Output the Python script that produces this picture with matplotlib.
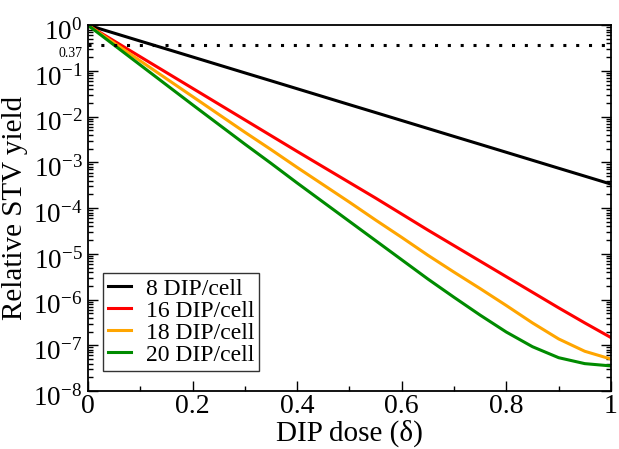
import numpy as np
import matplotlib
matplotlib.use("Agg")
import matplotlib.pyplot as plt
import matplotlib.transforms as mtransforms
from matplotlib.ticker import LogLocator, MultipleLocator, FixedLocator

plt.rcParams['font.family'] = ['Liberation Serif', 'DejaVu Serif']
plt.rcParams['mathtext.fontset'] = 'custom'
plt.rcParams['mathtext.rm'] = 'Liberation Serif'
plt.rcParams['mathtext.it'] = 'Liberation Serif:italic'

# DIP dose values
dose = [0.0, 0.05, 0.1, 0.15, 0.2, 0.25, 0.3, 0.35, 0.4, 0.45, 0.5,
        0.55, 0.6, 0.65, 0.7, 0.75, 0.8, 0.85, 0.9, 0.95, 1.0]

# log10 of relative STV yield
log_8 = [0.0, -0.174, -0.348, -0.521, -0.695, -0.869, -1.043, -1.216, -1.390, -1.564, -1.738,
         -1.911, -2.085, -2.259, -2.433, -2.606, -2.780, -2.954, -3.128, -3.301, -3.475]
log_16 = [0.0, -0.345, -0.69, -1.035, -1.38, -1.725, -2.07, -2.415, -2.76, -3.10, -3.44,
          -3.78, -4.13, -4.48, -4.82, -5.16, -5.50, -5.84, -6.18, -6.51, -6.83]
log_18 = [0.0, -0.39, -0.78, -1.17, -1.56, -1.95, -2.34, -2.72, -3.11, -3.49, -3.87,
          -4.26, -4.64, -5.03, -5.40, -5.76, -6.13, -6.51, -6.86, -7.13, -7.30]
log_20 = [0.0, -0.435, -0.87, -1.305, -1.74, -2.17, -2.60, -3.02, -3.45, -3.87, -4.29,
          -4.71, -5.13, -5.55, -5.95, -6.34, -6.71, -7.03, -7.27, -7.40, -7.45]

labels = ['8 DIP/cell', '16 DIP/cell', '18 DIP/cell', '20 DIP/cell']
colors = ['black', '#ff0000', '#ffa500', '#008b00']
threshold = 0.37

fig = plt.figure(figsize=(6.19, 4.49), dpi=100)
ax = fig.add_axes([0.142, 0.129, 0.845, 0.815])

for logs, lab, col in zip([log_8, log_16, log_18, log_20], labels, colors):
    ax.plot(dose, 10 ** np.array(logs), color=col, lw=2.2, label=lab)

ax.plot([0, 1], [threshold, threshold], color='black', lw=2.2,
        linestyle=(0, (1, 3.2)), dash_capstyle='butt')

ax.set_yscale('log')
ax.set_xlim(0, 1)
ax.set_ylim(1e-8, 1)

ax.xaxis.set_minor_locator(MultipleLocator(0.1))
ax.set_xticks([0, 0.2, 0.4, 0.6, 0.8, 1.0])
ax.set_xticklabels(['0', '0.2', '0.4', '0.6', '0.8', '1'])

ax.yaxis.set_major_locator(FixedLocator([10.0 ** k for k in range(-8, 1)]))
ax.set_yticklabels([r'$10^{%d}$' % k for k in range(-8, 1)])
ax.yaxis.set_minor_locator(LogLocator(base=10, subs=np.arange(2, 10), numticks=20))

ax.tick_params(axis='both', which='major', direction='in', length=7, width=1,
               left=True, right=True, top=False, bottom=True)
ax.tick_params(axis='both', which='minor', direction='in', length=3.5, width=1,
               left=True, right=True, top=False, bottom=True)
ax.tick_params(axis='x', pad=2, labelsize=20)
ax.tick_params(axis='y', pad=4, labelsize=19.5)
for s in ax.spines.values():
    s.set_linewidth(1.3)

# shift y tick labels slightly downward as in the reference
offset = mtransforms.ScaledTranslation(0, -3 / 72, fig.dpi_scale_trans)
for lbl in ax.get_yticklabels():
    lbl.set_transform(lbl.get_transform() + offset)

ax.set_xlabel('DIP dose (δ)', fontsize=21)
ax.xaxis.set_label_coords(0.5, -0.078)
ax.set_ylabel('Relative STV yield', fontsize=21)
ax.yaxis.set_label_coords(-0.115, 0.5)

ax.annotate('0.37', xy=(0, threshold), xycoords=('axes fraction', 'data'),
            xytext=(-4, -6.5), textcoords='offset points',
            fontsize=10, ha='right', va='center')

leg = ax.legend(loc='lower left', bbox_to_anchor=(0.028, 0.055), fontsize=17,
                frameon=True, fancybox=False, borderaxespad=0,
                handlelength=1.0, handletextpad=0.6, labelspacing=0.02,
                borderpad=0.22)
leg.get_frame().set_edgecolor('black')
leg.get_frame().set_linewidth(1.0)

fig.savefig('out.png', dpi=100)
